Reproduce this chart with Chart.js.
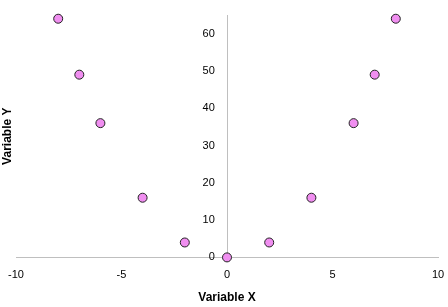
<!DOCTYPE html>
<html>
<head>
<meta charset="utf-8">
<script src="https://cdn.jsdelivr.net/npm/chart.js@4/dist/chart.umd.min.js"></script>
<style>
  body { margin: 0; background: #fff; }
</style>
</head>
<body>
<canvas id="myChart" width="448" height="307"></canvas>
<script>
const xValues = [-8, -7, -6, -4, -2, 0, 2, 4, 6, 7, 8];
const yValues = [64, 49, 36, 16, 4, 0, 4, 16, 36, 49, 64];
const xTicks = [-10, -5, 0, 5, 10];
const yTicks = [0, 10, 20, 30, 40, 50, 60];

const points = xValues.map((x, i) => ({ x: x, y: yValues[i] }));
const axisGrey = "#bfbfbf";
const tickFont = { family: "Liberation Sans, Arial, sans-serif", size: 11 };
const titleFont = { family: "Liberation Sans, Arial, sans-serif", size: 12, weight: "bold" };

// y title drawn by hand, the y axis sits at x = 0 so its own title would be in the middle
const yTitlePlugin = {
  id: "yTitle",
  afterDraw(chart) {
    const ctx = chart.ctx;
    const area = chart.chartArea;
    ctx.save();
    ctx.translate(8, (area.top + area.bottom) / 2);
    ctx.rotate(-Math.PI / 2);
    ctx.font = "bold 12px Liberation Sans, Arial, sans-serif";
    ctx.fillStyle = "#000";
    ctx.textAlign = "center";
    ctx.textBaseline = "middle";
    ctx.fillText("Variable Y", 0, 0);
    ctx.restore();
  },
};

const data = {
  datasets: [
    {
      label: "Dati",
      data: points,
      backgroundColor: "#f08ef0",
      borderColor: "#222",
      borderWidth: 1,
      pointRadius: 4.5,
      clip: false,
    },
  ],
};

const options = {
  responsive: false,
  animation: false,
  layout: { padding: { top: 15, right: 10, bottom: 0, left: 16 } },
  plugins: { legend: { display: false }, tooltip: { enabled: false } },
  scales: {
    x: {
      type: "linear",
      min: -10,
      max: 10,
      afterBuildTicks: (s) => { s.ticks = xTicks.map(v => ({ value: v })); },
      grid: { display: false },
      border: { display: true, color: axisGrey },
      ticks: { color: "#000", font: tickFont, padding: 3 },
      title: { display: true, text: "Variable X", color: "#000", font: titleFont, padding: { top: 6, bottom: 2 } },
    },
    y: {
      type: "linear",
      position: { x: 0 },
      min: 0,
      max: 65,
      afterBuildTicks: (s) => { s.ticks = yTicks.map(v => ({ value: v })); },
      grid: { display: false },
      border: { display: true, color: axisGrey },
      // labels are right-aligned on the axis line, spaces give the gap
      ticks: { color: "#000", font: tickFont, callback: (v) => v + "    " },
    },
  },
};

const config = {
  type: "scatter",
  data: data,
  options: options,
  plugins: [yTitlePlugin],
};

const myChart = new Chart(document.getElementById("myChart"), config);
</script>
</body>
</html>
